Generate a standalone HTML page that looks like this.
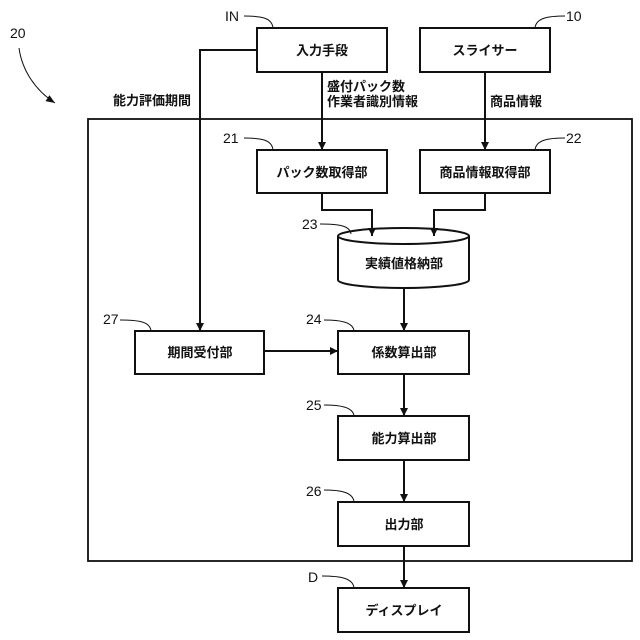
<!DOCTYPE html>
<html><head><meta charset="utf-8"><style>
html,body{margin:0;padding:0;background:#fff;}
svg{display:block;}
text{font-family:"Liberation Sans","Noto Sans CJK JP",sans-serif;fill:#111;}
.j{font-size:13px;font-weight:bold;}
.n{font-size:14px;}
</style></head><body>
<svg width="640" height="640" viewBox="0 0 640 640" xmlns="http://www.w3.org/2000/svg">
<defs>
<marker id="a" viewBox="0 0 10 10" refX="10" refY="5" markerWidth="8" markerHeight="8" orient="auto" markerUnits="userSpaceOnUse"><path d="M0,0 L10,5 L0,10 z" fill="#111"/></marker>
<marker id="b" viewBox="0 0 10 10" refX="10" refY="5" markerWidth="9" markerHeight="9" orient="auto" markerUnits="userSpaceOnUse"><path d="M0,1 L10,5 L0,9 z" fill="#111"/></marker>
</defs>
<g fill="none" stroke="#111" stroke-width="2">
<rect x="88" y="119" width="544" height="442" stroke-width="1.8"/>
<rect x="257" y="28" width="130" height="44"/>
<rect x="420" y="28" width="130" height="44"/>
<rect x="257" y="150" width="130" height="43"/>
<rect x="420" y="150" width="130" height="43"/>
<rect x="135" y="331" width="129" height="43"/>
<rect x="338" y="331" width="131" height="43"/>
<rect x="338" y="416" width="131" height="44"/>
<rect x="338" y="502" width="131" height="44"/>
<rect x="338" y="588" width="131" height="44"/>
<path d="M338,236 L338,280 A65.5,8 0 0 0 469,280 L469,236" fill="#fff"/>
<ellipse cx="403.5" cy="236" rx="65.5" ry="8" fill="#fff"/>
</g>
<g fill="none" stroke="#111" stroke-width="2">
<path d="M257,50 L200,50 L200,331" marker-end="url(#a)"/>
<path d="M322,72 L322,150" marker-end="url(#a)"/>
<path d="M485,72 L485,150" marker-end="url(#a)"/>
<path d="M322,193 L322,210 L372,210 L372,236" marker-end="url(#a)"/>
<path d="M485,193 L485,210 L434,210 L434,236" marker-end="url(#a)"/>
<path d="M404,288 L404,331" marker-end="url(#a)"/>
<path d="M264,351 L338,351" marker-end="url(#a)"/>
<path d="M404,374 L404,416" marker-end="url(#a)"/>
<path d="M404,460 L404,502" marker-end="url(#a)"/>
<path d="M404,546 L404,588" marker-end="url(#a)"/>
</g>
<g fill="none" stroke="#111" stroke-width="1">
<path d="M244,16 C262,16 272,18 273,28"/>
<path d="M565,16 C548,16 536,18 535,28"/>
<path d="M244,138 C262,138 272,140 273,150"/>
<path d="M565,138 C548,138 536,140 535,150"/>
<path d="M320,224 C340,224 350,226 351,234"/>
<path d="M120,320 C140,320 150,322 151,331"/>
<path d="M324,320 C340,320 353,322 354,331"/>
<path d="M324,405 C340,405 353,407 354,416"/>
<path d="M324,490 C340,490 353,492 354,502"/>
<path d="M322,576 C340,576 353,578 354,588"/>
</g>
<path d="M19,48 C22,70 35,90 55,103" fill="none" stroke="#111" stroke-width="1" marker-end="url(#b)"/>
<g class="n">
<text x="10" y="38">20</text>
<text x="225" y="21">IN</text>
<text x="566" y="21">10</text>
<text x="223" y="143">21</text>
<text x="566" y="143">22</text>
<text x="302" y="229">23</text>
<text x="103" y="324">27</text>
<text x="306" y="324">24</text>
<text x="306" y="410">25</text>
<text x="306" y="496">26</text>
<text x="308" y="582">D</text>
</g>
<g class="j" text-anchor="middle">
<text x="322" y="55">入力手段</text>
<text x="485" y="55">スライサー</text>
<text x="322" y="177">パック数取得部</text>
<text x="485" y="177">商品情報取得部</text>
<text x="404" y="268">実績値格納部</text>
<text x="200" y="357">期間受付部</text>
<text x="404" y="357">係数算出部</text>
<text x="404" y="443">能力算出部</text>
<text x="404" y="529">出力部</text>
<text x="404" y="615">ディスプレイ</text>
<text x="152" y="105">能力評価期間</text>
</g>
<g class="j">
<text x="327" y="91">盛付パック数</text>
<text x="327" y="106">作業者識別情報</text>
<text x="490" y="106">商品情報</text>
</g>
</svg>
</body></html>
